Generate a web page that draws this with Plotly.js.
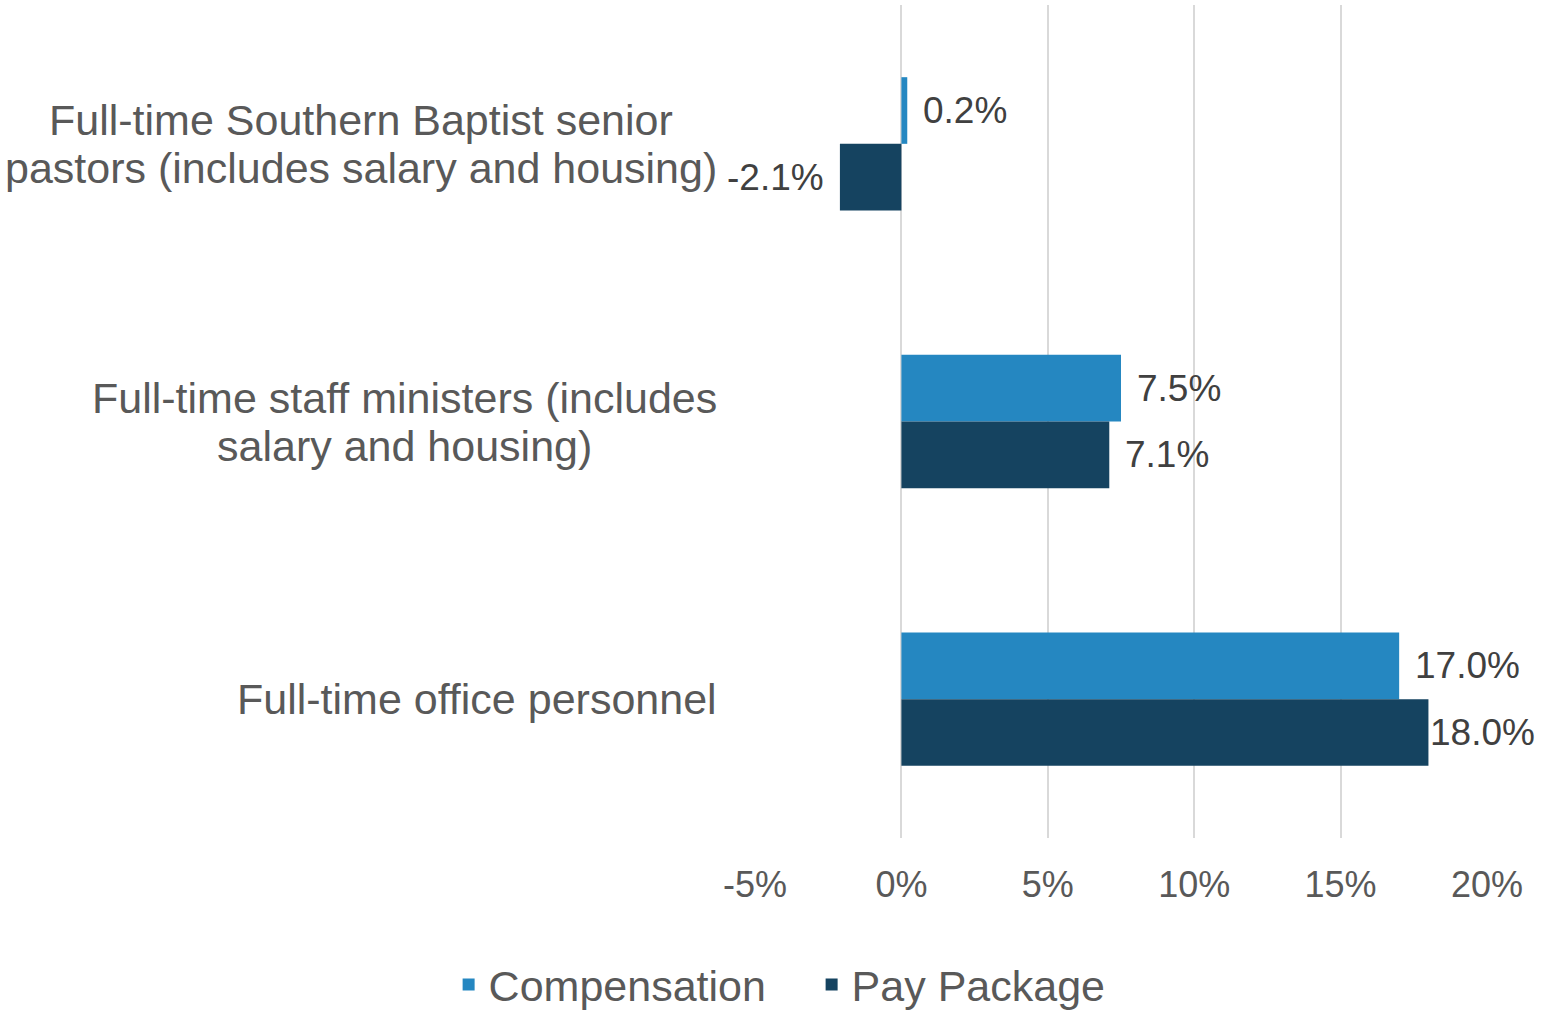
<!DOCTYPE html>
<html>
<head>
<meta charset="utf-8">
<script src="https://cdn.plot.ly/plotly-3.0.1.min.js"></script>
<style>
  html, body { margin:0; padding:0; background:#fff; }
  #chart { width:1543px; height:1013px; }
</style>
</head>
<body>
<div id="chart"></div>
<script>
// pay change by staff group, top to bottom as shown
const categories = [
  'Full-time Southern Baptist senior<br>pastors (includes salary and housing)',
  'Full-time staff ministers (includes<br>salary and housing)',
  'Full-time office personnel'
];
const compensation = [0.2, 7.5, 17.0];
const payPackage = [-2.1, 7.1, 18.0];
const seriesNames = ['Compensation', 'Pay Package'];
const tickVals = [-5, 0, 5, 10, 15, 20];
const tickLabels = ['-5%', '0%', '5%', '10%', '15%', '20%'];

const COLORS = ['#2587c1', '#154360'];
const FONT = 'Liberation Sans, Arial, sans-serif';
const GREY = '#595959';
const CAT_SIZE = 43;

const traces = [compensation, payPackage].map((vals, i) => ({
  type: 'bar', orientation: 'h',
  x: vals, y: categories, name: seriesNames[i],
  marker: { color: COLORS[i], line: { width: 0 } },
  hoverinfo: 'skip'
}));

function measure(txt) {
  const cv = measure.cv || (measure.cv = document.createElement('canvas'));
  const ctx = cv.getContext('2d');
  ctx.font = CAT_SIZE + 'px "Liberation Sans", Arial, sans-serif';
  return ctx.measureText(txt).width;
}

// bar value labels: half a bar above/below category centre
const BAR_PX = 33.3;
const annotations = [];
[compensation, payPackage].forEach((vals, s) => {
  vals.forEach((v, i) => {
    const gap = v >= 18 ? 0 : 14;   // last label is squeezed against the edge
    annotations.push({
      x: v, y: categories[i], xref: 'x', yref: 'y',
      text: v.toFixed(1) + '%', showarrow: false,
      xanchor: v < 0 ? 'right' : 'left',
      xshift: v < 0 ? -gap : gap,
      yshift: s === 0 ? BAR_PX : -BAR_PX,
      font: { family: FONT, size: 37, color: '#404040' }
    });
  });
});

// category labels, lines centred on each other (ticklabels would right-align)
categories.forEach(c => {
  const lines = c.split('<br>');
  const widest = Math.max(...lines.map(measure));
  lines.forEach((ln, k) => {
    annotations.push({
      x: 0, y: c, xref: 'paper', yref: 'y',
      text: ln, showarrow: false,
      xanchor: 'center', align: 'center',
      xshift: -38 - widest / 2,
      yshift: ((lines.length - 1) / 2 - k) * 48,
      font: { family: FONT, size: CAT_SIZE, color: GREY }
    });
  });
});

const layout = {
  width: 1543, height: 1013,
  paper_bgcolor: '#fff', plot_bgcolor: '#fff',
  margin: { l: 755, r: 56, t: 5, b: 175 },
  font: { family: FONT, color: GREY },
  barmode: 'group', bargap: 0.52, bargroupgap: 0,
  xaxis: {
    range: [-5, 20], tickvals: tickVals, ticktext: tickLabels,
    showgrid: true, gridcolor: '#d9d9d9', gridwidth: 2,
    zeroline: false, showline: false, ticks: '',
    ticklabelstandoff: 22,
    tickfont: { family: FONT, size: 36, color: GREY },
    fixedrange: true
  },
  yaxis: {
    autorange: 'reversed', showticklabels: false, showgrid: false,
    zeroline: false, showline: false, ticks: '', fixedrange: true
  },
  showlegend: true,
  legend: {
    orientation: 'h', xref: 'container', yref: 'container',
    x: 0.526, y: 0.028, xanchor: 'center', yanchor: 'middle',
    font: { family: FONT, size: 43, color: GREY },
    itemwidth: 30, entrywidth: 318, entrywidthmode: 'pixels'
  },
  annotations: annotations
};

Plotly.newPlot('chart', traces, layout, { displayModeBar: false, staticPlot: true });
</script>
</body>
</html>
